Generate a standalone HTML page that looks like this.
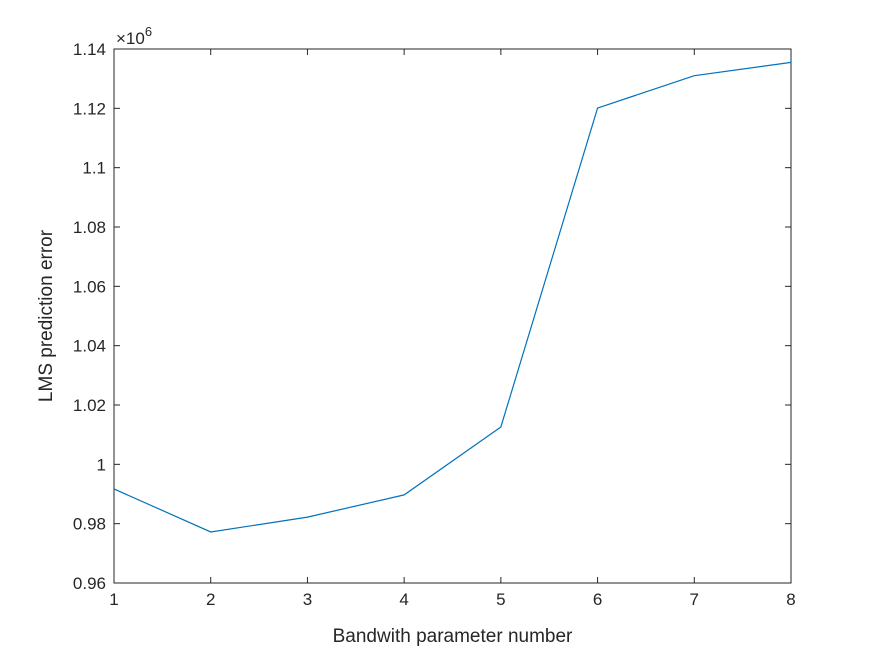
<!DOCTYPE html>
<html><head><meta charset="utf-8">
<style>
body{margin:0;background:#fff;}
svg text{font-family:"Liberation Sans",Arial,sans-serif;fill:#262626;}
</style></head>
<body>
<svg id="chart" width="875" height="656" xmlns="http://www.w3.org/2000/svg">
<rect width="875" height="656" fill="#fff"/>
<g id="plot"></g>
</svg>
<script>
const xCategories=[1,2,3,4,5,6,7,8];
const errorValues=[0.9917,0.9772,0.9822,0.9897,1.0126,1.1201,1.1310,1.1355];
const yTickLabels=["0.96","0.98","1","1.02","1.04","1.06","1.08","1.1","1.12","1.14"];
const yTickValues=[0.96,0.98,1.00,1.02,1.04,1.06,1.08,1.10,1.12,1.14];
const L=114,R=791,T=49,B=583;
const yMin=0.96,yMax=1.14,xMin=1,xMax=8;
const xs=v=>L+(v-xMin)/(xMax-xMin)*(R-L);
const ys=v=>B-(v-yMin)/(yMax-yMin)*(B-T);
const NS="http://www.w3.org/2000/svg";
const g=document.getElementById('plot');
function mk(t,a){const e=document.createElementNS(NS,t);for(const k in a)e.setAttribute(k,a[k]);g.appendChild(e);return e;}
const box=mk('rect',{x:L,y:T,width:R-L,height:B-T,fill:'none',stroke:'#262626','stroke-width':1});


xCategories.forEach(c=>{
  const x=xs(c);
  const t1=mk('line',{x1:x,x2:x,y1:B,y2:B-6,stroke:'#262626'});
  
  
  const t2=mk('line',{x1:x,x2:x,y1:T,y2:T+6,stroke:'#262626'});
  
  
  const lb=mk('text',{x:x,y:B+22,'text-anchor':'middle','font-size':17});
  lb.textContent=c;
  
  
});
yTickValues.forEach((v,i)=>{
  const y=ys(v);
  const t1=mk('line',{x1:L,x2:L+6,y1:y,y2:y,stroke:'#262626'});
  
  
  const t2=mk('line',{x1:R,x2:R-6,y1:y,y2:y,stroke:'#262626'});
  
  
  const lb=mk('text',{x:L-8,y:y+6,'text-anchor':'end','font-size':17});
  lb.textContent=yTickLabels[i];
  
  
});
const pts=xCategories.map((c,i)=>xs(c)+','+ys(errorValues[i])).join(' ');
const line=mk('polyline',{points:pts,fill:'none',stroke:'#0072BD','stroke-width':1.2});


const ex=mk('text',{x:116,y:44,'font-size':17});
ex.innerHTML='×10<tspan dy="-8" font-size="13">6</tspan>';


const xt=mk('text',{x:(L+R)/2,y:642,'text-anchor':'middle','font-size':19});
xt.textContent='Bandwith parameter number';


const yt=mk('text',{x:0,y:0,'text-anchor':'middle','font-size':19,transform:`translate(52,${(T+B)/2}) rotate(-90)`});
yt.textContent='LMS prediction error';


</script>
</body></html>
